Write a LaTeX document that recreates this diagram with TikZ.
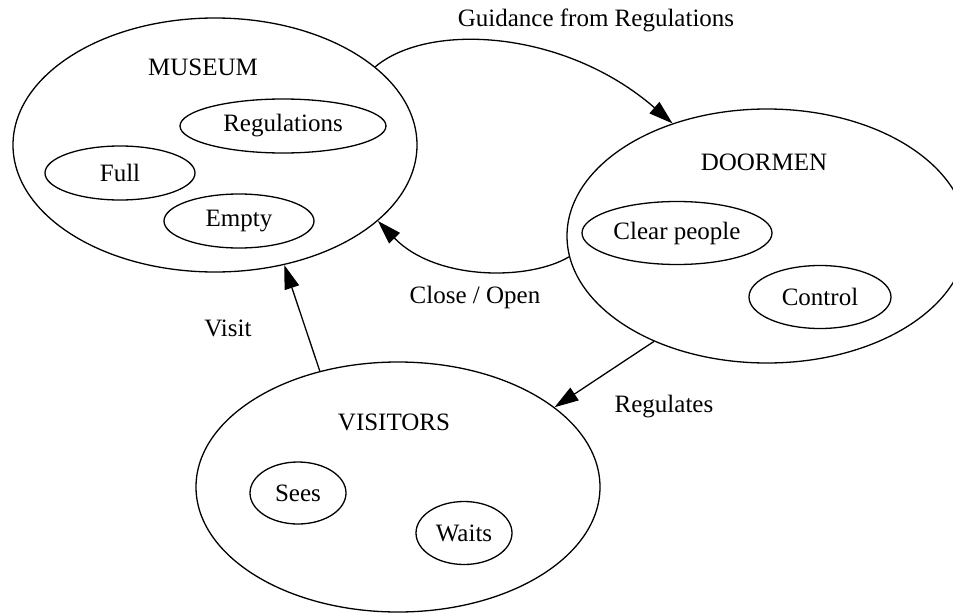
\documentclass[tikz,border=0pt]{standalone}
\usepackage{fontspec}
\setmainfont{Liberation Serif}
\usepackage{tikz}
\usetikzlibrary{arrows.meta, positioning, shapes.geometric}

\begin{document}
\begin{tikzpicture}[
					x=1pt, y=-1pt,
					every node/.style={font=\fontsize{25}{30}\selectfont},
					region/.style={ellipse, draw, line width=1.3pt, inner sep=0pt},
					state/.style={ellipse, draw, line width=1.3pt, inner sep=0pt},
					arrow/.style={-{Triangle[length=24pt, width=15pt]}, line width=1.3pt},
					edgelabel/.style={inner sep=0pt}
					]
					\useasboundingbox (0,0) rectangle (953,613);
					% Define regions
					\node[region, minimum width=404pt, minimum height=254pt] (museum) at (215,145) {};
					\node[region, minimum width=400pt, minimum height=254pt] (doormen) at (767,236) {};
					\node[region, minimum width=404pt, minimum height=250pt] (visitors) at (398,487) {};
					\node (museumtitle) at (203,67) {MUSEUM};
					\node (doormentitle) at (764,162) {DOORMEN};
					\node (visitorstitle) at (394,422) {VISITORS};
					
					% Define states
					\node[state, minimum width=206pt, minimum height=54pt] (regulations) at (283,126) {Regulations};
					\node[state, minimum width=150pt, minimum height=54pt] (full) at (120,173) {Full};
					\node[state, minimum width=150pt, minimum height=54pt] (empty) at (239,221) {Empty};
					\node[state, minimum width=190pt, minimum height=63pt] (clear) at (677,233) {Clear people};
					\node[state, minimum width=142pt, minimum height=63pt] (control) at (820,297) {Control};
					\node[state, minimum width=96pt, minimum height=62pt] (sees) at (298,493) {Sees};
					\node[state, minimum width=96pt, minimum height=63pt] (waits) at (464,533) {Waits};
					
					% Arrows
					\draw[arrow] (museum.26) .. controls +(53,-45) and +(-108,-94) .. (doormen.130);
					\draw[arrow] (doormen.186) .. controls +(-40,24) and +(58,60) .. (museum.335);
					\draw[arrow] (visitors.124) -- (museum.300);
					\draw[arrow] (doormen.223) -- (visitors.27);
					
					% Labels
					\node[edgelabel] (guidelabel) at (596,20) {Guidance from Regulations};
					\node[edgelabel] (closelabel) at (475,297) {Close / Open};
					\node[edgelabel] (visitlabel) at (228,328) {Visit};
					\node[edgelabel] (regulateslabel) at (664,407) {Regulates};
				\end{tikzpicture}
\end{document}
